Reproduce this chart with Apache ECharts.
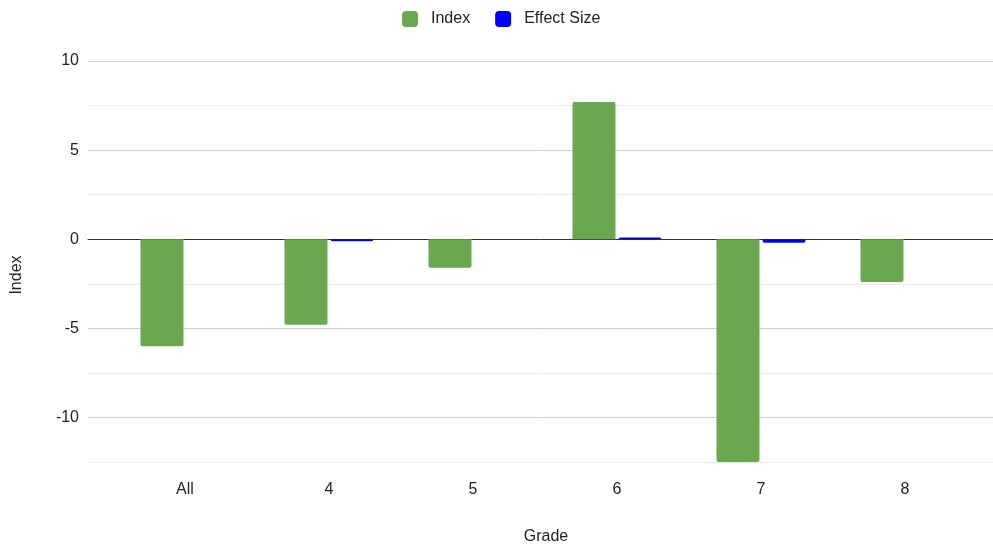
<!DOCTYPE html>
<html>
<head>
<meta charset="utf-8">
<script src="https://cdn.jsdelivr.net/npm/echarts@6/dist/echarts.min.js"></script>
<style>html,body{margin:0;padding:0;background:#fff;}#c{width:993px;height:550px;}</style>
</head>
<body>
<div id="c"></div>
<script>
const categories = ['All', '4', '5', '6', '7', '8'];
const indexValues = [-6.0, -4.8, -1.6, 7.7, -12.5, -2.4];
const effectSizes = [0, -0.12, 0, 0.1, -0.2, 0];
const yMin = -12.5, yMax = 10, yStep = 2.5;

const FONT = '"Liberation Sans", Arial, sans-serif';
const GREEN = '#6aa84f', BLUE = '#0000ff';

function withRadius(vals) {
  return vals.map(v => ({
    value: v,
    itemStyle: { borderRadius: v >= 0 ? [2, 2, 0, 0] : [0, 0, 2, 2] }
  }));
}

const chart = echarts.init(document.getElementById('c'), null, { renderer: 'canvas' });
chart.setOption({
  animation: false,
  backgroundColor: '#fff',
  textStyle: { fontFamily: FONT },
  legend: {
    left: 397, top: 6,
    itemWidth: 16, itemHeight: 16, itemGap: 25,
    icon: 'roundRect',
    textStyle: { fontFamily: FONT, fontSize: 16, color: '#222', padding: [0, 0, 0, 8] },
    data: ['Index', 'Effect Size']
  },
  grid: [
    { left: 88, right: 0, top: 61, bottom: 88 },
    { left: 113, right: 16, top: 61, bottom: 88 }
  ],
  xAxis: [
    { gridIndex: 0, type: 'category', data: categories,
      axisLine: { show: true, onZero: true, lineStyle: { color: '#333', width: 1 } },
      axisTick: { show: false }, axisLabel: { show: false }, splitLine: { show: false } },
    { gridIndex: 1, type: 'category', data: categories,
      axisLine: { show: false, onZero: false }, axisTick: { show: false },
      axisLabel: { fontFamily: FONT, fontSize: 16, color: '#222', margin: 20 } }
  ],
  yAxis: [
    { gridIndex: 0, type: 'value', min: yMin, max: yMax, interval: yStep,
      axisLine: { show: false }, axisTick: { show: false },
      axisLabel: { fontFamily: FONT, fontSize: 16, color: '#222', margin: 9,
        formatter: v => (Math.abs(v % 5) < 1e-9 ? String(v) : '') },
      splitLine: { show: true, lineStyle: { color: ['#ebebeb', '#cccccc'], width: 1 } } },
    { gridIndex: 1, type: 'value', min: yMin, max: yMax, interval: yStep, show: false,
      splitLine: { show: false } }
  ],
  series: [
    { name: 'Index', type: 'bar', xAxisIndex: 1, yAxisIndex: 1,
      data: withRadius(indexValues), itemStyle: { color: GREEN },
      barWidth: 43, barGap: '7%' },
    { name: 'Effect Size', type: 'bar', xAxisIndex: 1, yAxisIndex: 1,
      data: withRadius(effectSizes), itemStyle: { color: BLUE },
      barWidth: 43, barGap: '7%' }
  ],
  graphic: [
    { type: 'text', x: 17, y: 275, rotation: Math.PI / 2,
      style: { text: 'Index', fontFamily: FONT, fontSize: 16, fill: '#222',
        align: 'center', verticalAlign: 'middle' } },
    { type: 'text', x: 546, y: 537,
      style: { text: 'Grade', fontFamily: FONT, fontSize: 16, fill: '#222',
        align: 'center', verticalAlign: 'middle' } }
  ]
});
</script>
</body>
</html>
